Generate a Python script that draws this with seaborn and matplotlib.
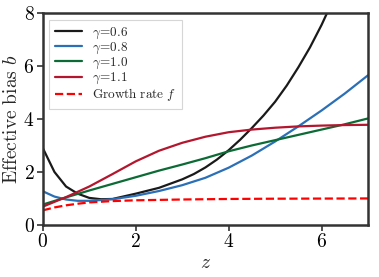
import numpy as np
import pandas as pd
import seaborn as sns
import matplotlib.pyplot as plt

# Values
z_g06 = [0, 0.25, 0.5, 0.75, 1.0, 1.25, 1.5, 2.0, 2.5, 3.0, 3.25, 3.5, 3.75, 4.0, 4.25, 4.5, 4.75, 5.0, 5.25, 5.5, 5.75, 6.0, 6.25]
b_g06 = [2.9, 2.0, 1.45, 1.18, 1.02, 0.97, 0.98, 1.18, 1.4, 1.72, 1.92, 2.17, 2.47, 2.82, 3.22, 3.66, 4.13, 4.65, 5.26, 5.95, 6.7, 7.55, 8.5]

z_g08 = [0, 0.25, 0.5, 0.75, 1.0, 1.5, 2.0, 2.5, 3.0, 3.5, 4.0, 4.5, 5.0, 5.5, 6.0, 6.5, 7.0]
b_g08 = [1.27, 1.07, 0.96, 0.91, 0.91, 0.97, 1.1, 1.28, 1.5, 1.78, 2.16, 2.62, 3.15, 3.72, 4.32, 4.96, 5.65]

z_g10 = [0, 0.5, 1, 1.5, 2, 2.5, 3, 3.5, 4, 4.5, 5, 5.5, 6, 6.5, 7]
b_g10 = [0.77, 1.04, 1.3, 1.55, 1.8, 2.05, 2.28, 2.52, 2.78, 3.0, 3.2, 3.4, 3.6, 3.8, 4.02]

z_g11 = [0, 0.5, 1, 1.5, 2, 2.5, 3, 3.5, 4, 4.5, 5, 5.5, 6, 6.5, 7]
b_g11 = [0.69, 1.05, 1.45, 1.92, 2.4, 2.8, 3.1, 3.33, 3.5, 3.6, 3.67, 3.72, 3.75, 3.77, 3.78]

z_f = [0, 0.25, 0.5, 0.75, 1, 1.5, 2, 3, 4, 5, 6, 7]
f_vals = [0.55, 0.66, 0.74, 0.8, 0.85, 0.9, 0.93, 0.96, 0.98, 0.99, 0.995, 1.0]

xticks = [0, 2, 4, 6]
yticks = [0, 2, 4, 6, 8]

sns.set_style("ticks")
plt.rcParams['mathtext.fontset'] = 'cm'
plt.rcParams['font.family'] = ['DejaVu Serif']

fig = plt.figure(figsize=(3.79, 2.77), dpi=100)
ax = fig.add_axes([0.113, 0.188, 0.858, 0.765])

series = [
    (z_g06, b_g06, '#1a1a1a', r'$\gamma\!=\!0.6$'),
    (z_g08, b_g08, '#2b6fb6', r'$\gamma\!=\!0.8$'),
    (z_g10, b_g10, '#0c6b35', r'$\gamma\!=\!1.0$'),
    (z_g11, b_g11, '#b4162e', r'$\gamma\!=\!1.1$'),
]
for zs, bs, col, lab in series:
    sns.lineplot(x=zs, y=bs, color=col, lw=1.6, label=lab, ax=ax)
sns.lineplot(x=z_f, y=f_vals, color='#ff0000', lw=1.6, ls='--',
             label=r'$\mathrm{Growth\ rate}\ f$', ax=ax)

ax.set_xlim(0, 7)
ax.set_ylim(0, 8)
ax.set_xticks(xticks, [f'${t}$' for t in xticks])
ax.set_yticks(yticks, [f'${t}$' for t in yticks])
ax.tick_params(labelsize=14, length=4, width=1.2, colors='#333333', labelcolor='black', pad=2)
for sp in ax.spines.values():
    sp.set_linewidth(1.8)
    sp.set_color('#333333')

ax.set_xlabel(r'$z$', fontsize=14, labelpad=2)
ax.set_ylabel(r'$\mathrm{Effective\ bias}\ b$', fontsize=14, labelpad=2)

leg = ax.legend(loc='upper left', fontsize=9.5, handlelength=2.0, labelspacing=0.0,
                fancybox=False, borderpad=0.45, handletextpad=0.8)
leg.get_frame().set_edgecolor('#cccccc')
leg.get_frame().set_linewidth(0.8)

fig.savefig('out.png', dpi=100)
